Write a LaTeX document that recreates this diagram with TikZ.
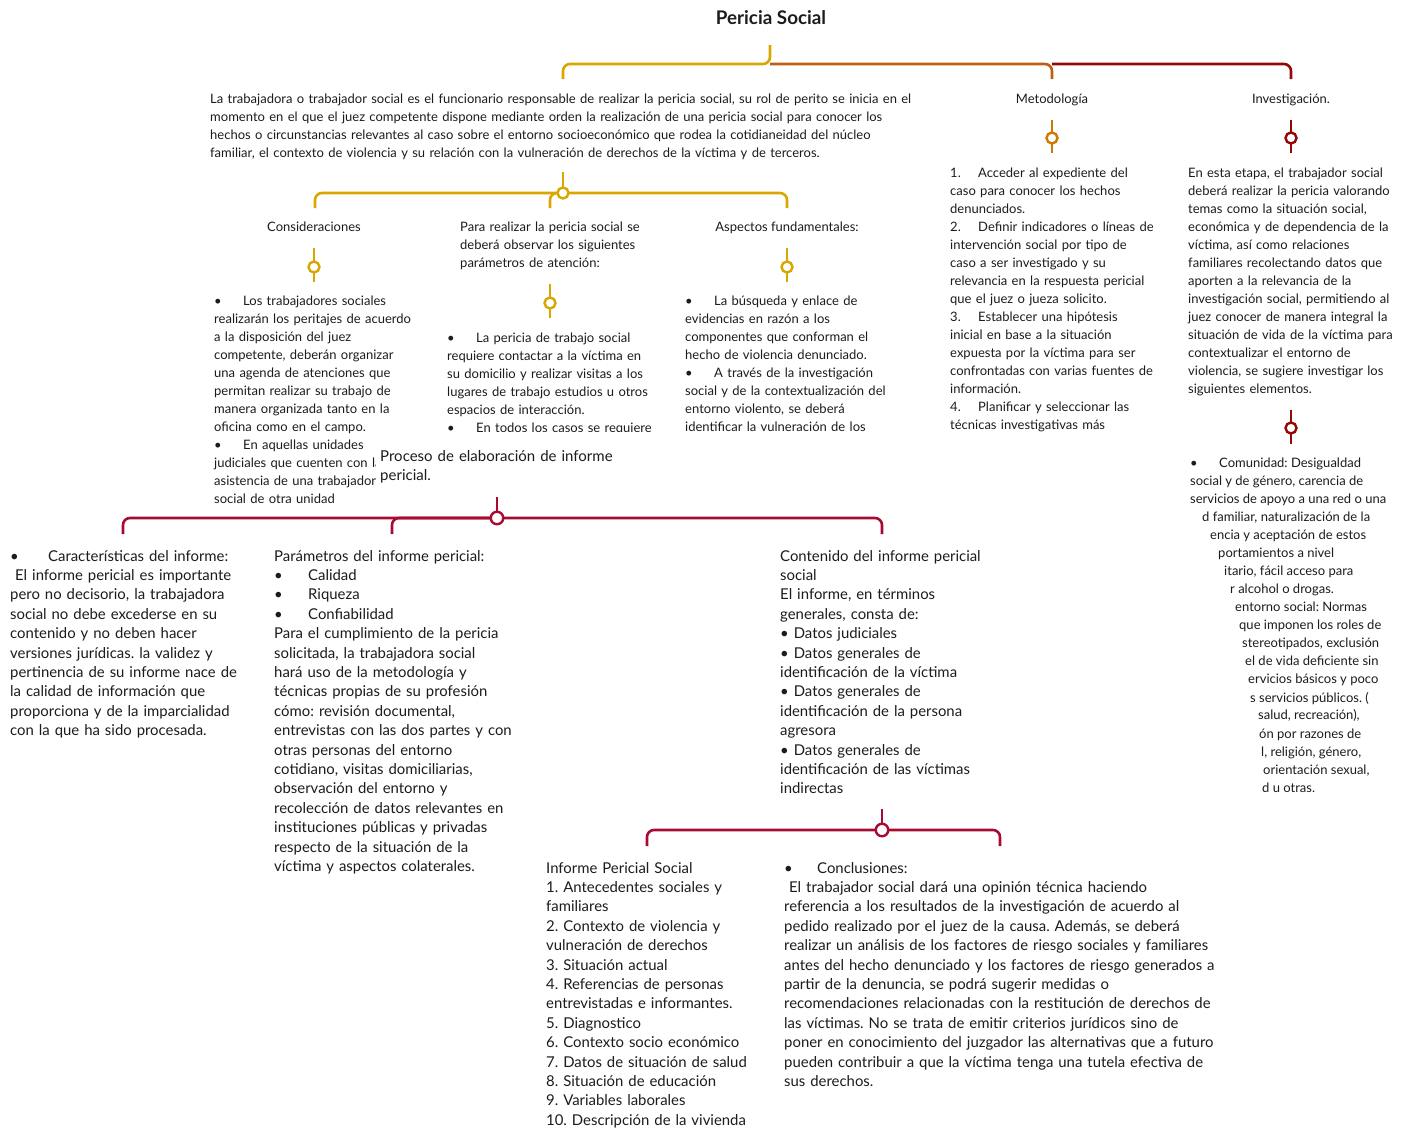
\documentclass[tikz,border=0pt]{standalone}
\usepackage{fontspec}
\setmainfont{Lato}
\frenchspacing
\definecolor{ink}{RGB}{28,28,28}
\definecolor{gold}{RGB}{218,166,0}
\definecolor{amber}{RGB}{206,122,0}
\definecolor{rust}{RGB}{194,92,18}
\definecolor{maroon}{RGB}{150,8,8}
\definecolor{crimson}{RGB}{168,10,50}
\newcommand{\bul}[1][29]{\makebox[#1pt][l]{•}}
\newcommand{\num}[1]{\makebox[28pt][l]{#1}}
\begin{document}
\begin{tikzpicture}[x=1pt,y=-1pt,
  txt/.style={anchor=base west, inner sep=0pt, text width=#1pt, align=left, text=ink},
  lbl/.style={anchor=base, inner sep=0pt, text=ink},
  small/.style={font=\fontsize{13}{18}\selectfont\frenchspacing},
  big/.style={font=\fontsize{14.9}{19.4}\selectfont\frenchspacing},
  wire/.style={line width=2.6pt, rounded corners=7pt},
  stem/.style={line width=2.6pt},
  knot/.style={circle, draw, fill=white, line width=2.4pt, minimum size=11pt, inner sep=0pt},
  bigknot/.style={knot, minimum size=12.5pt},
]
\path[use as bounding box, fill=white] (0,0) rectangle (1412,1130);

% ---------- title and first level ----------
\node[lbl, font=\fontsize{18.8}{22}\selectfont\bfseries] (title) at (771,24) {Pericia Social};
\coordinate (hub) at (770,64);
\coordinate (tstem) at (770,45);
\coordinate (dropA) at (563,79);
\coordinate (dropM) at (1052,79);
\coordinate (forkM) at (1052,64);
\coordinate (dropI) at (1291,79);
\draw[gold,wire] (tstem) -- (hub) -| (dropA);
\draw[rust,wire] (hub) -| (dropM);
\draw[maroon,wire] (forkM) -| (dropI);

\node[txt=760, small] (intro) at (210,103) {La trabajadora o trabajador social es el funcionario responsable de realizar la pericia social, su rol de perito se inicia en el\\
momento en el que el juez competente dispone mediante orden la realización de una pericia social para conocer los\\
hechos o circunstancias relevantes al caso sobre el entorno socioeconómico que rodea la cotidianeidad del núcleo\\
familiar, el contexto de violencia y su relación con la vulneración de derechos de la víctima y de terceros.};

\node[lbl, small] (metod) at (1052,103) {Metodología};
\node[lbl, small] (invest) at (1291,103) {Investigación.};

% ---------- pins under Metodología and Investigación ----------
\coordinate (m1) at (1052,120); \coordinate (m2) at (1052,153);
\draw[amber,stem] (m1) -- (m2);
\node[knot, draw=amber] (km) at (1052,138) {};
\coordinate (i1) at (1291,120); \coordinate (i2) at (1291,153);
\draw[maroon,stem] (i1) -- (i2);
\node[knot, draw=maroon] (ki) at (1291,138) {};

% ---------- Metodología list ----------
\begin{scope}
\clip (940,160) rectangle (1172,431);
\node[txt=225, small] (metlist) at (950,177) {\num{1.}Acceder al expediente del\\
caso para conocer los hechos\\
denunciados.\\
\num{2.}Definir indicadores o líneas de\\
intervención social por tipo de\\
caso a ser investigado y su\\
relevancia en la respuesta pericial\\
que el juez o jueza solicito.\\
\num{3.}Establecer una hipótesis\\
inicial en base a la situación\\
expuesta por la víctima para ser\\
confrontadas con varias fuentes de\\
información.\\
\num{4.}Planificar y seleccionar las\\
técnicas investigativas más};
\end{scope}

% ---------- Investigación text ----------
\node[txt=225, small] (invtext) at (1188,177) {En esta etapa, el trabajador social\\
deberá realizar la pericia valorando\\
temas como la situación social,\\
económica y de dependencia de la\\
víctima, así como relaciones\\
familiares recolectando datos que\\
aporten a la relevancia de la\\
investigación social, permitiendo al\\
juez conocer de manera integral la\\
situación de vida de la víctima para\\
contextualizar el entorno de\\
violencia, se sugiere investigar los\\
siguientes elementos.};

\coordinate (i3) at (1291,410); \coordinate (i4) at (1291,444);
\draw[maroon,stem] (i3) -- (i4);
\node[knot, draw=maroon] (ki2) at (1291,428) {};

% fragments of the community list, cut along a slanted edge
\begin{scope}[every node/.style={anchor=base west, inner sep=0pt, text=ink, font=\fontsize{13}{18}\selectfont}]
\node (c01) at (1190,467) {\bul Comunidad: Desigualdad};
\node (c02) at (1190,485) {social y de género, carencia de};
\node (c03) at (1190,503) {servicios de apoyo a una red o una};
\node (c04) at (1202,521) {d familiar, naturalización de la};
\node (c05) at (1210,539) {encia y aceptación de estos};
\node (c06) at (1218,557) {portamientos a nivel};
\node (c07) at (1224,575) {itario, fácil acceso para};
\node (c08) at (1230,593) {r alcohol o drogas.};
\node (c09) at (1235,611) {entorno social: Normas};
\node (c10) at (1239,629) {que imponen los roles de};
\node (c11) at (1242,647) {stereotipados, exclusión};
\node (c12) at (1245,665) {el de vida deficiente sin};
\node (c13) at (1248,683) {ervicios básicos y poco};
\node (c14) at (1250,702) {s servicios públicos. (};
\node (c15) at (1258,719) {salud, recreación),};
\node (c16) at (1259,738) {ón por razones de};
\node (c17) at (1261,756) {l, religión, género,};
\node (c18) at (1263,774) {orientación sexual,};
\node (c19) at (1262,792) {d u otras.};
\end{scope}

% ---------- gold sub-branch ----------
\coordinate (g0) at (563,172);
\draw[gold,stem] (g0) -- (563,188);
\coordinate (gL) at (315,208);
\coordinate (gR) at (787,208);
\coordinate (gM) at (550,208);
\coordinate (gT) at (563,193);
\draw[gold,wire] (gL) -- (315,193) -- (787,193) -- (gR);
\draw[gold,wire] (gT) -| (gM);
\node[knot, draw=gold] (kg) at (gT) {};

\node[lbl, small] (consid) at (314,231) {Consideraciones};
\node[txt=200, small] (param) at (460,231) {Para realizar la pericia social se\\
deberá observar los siguientes\\
parámetros de atención:};
\node[lbl, small] (aspect) at (787,231) {Aspectos fundamentales:};

\draw[gold,stem] (314,248) -- (314,282);
\node[knot, draw=gold] (kc) at (314,267) {};
\draw[gold,stem] (550,284) -- (550,318);
\node[knot, draw=gold] (kp) at (550,303) {};
\draw[gold,stem] (787,248) -- (787,282);
\node[knot, draw=gold] (ka) at (787,267) {};

\begin{scope}
\clip (205,285) rectangle (440,503);
\node[txt=225, small] (considlist) at (214,305) {\bul Los trabajadores sociales\\
realizarán los peritajes de acuerdo\\
a la disposición del juez\\
competente, deberán organizar\\
una agenda de atenciones que\\
permitan realizar su trabajo de\\
manera organizada tanto en la\\
oficina como en el campo.\\
\bul En aquellas unidades\\
judiciales que cuenten con la\\
asistencia de una trabajadora\\
social de otra unidad};
\end{scope}

\begin{scope}
\clip (440,320) rectangle (672,431);
\node[txt=225, small] (paramlist) at (447,342) {\bul La pericia de trabajo social\\
requiere contactar a la víctima en\\
su domicilio y realizar visitas a los\\
lugares de trabajo estudios u otros\\
espacios de interacción.\\
\bul En todos los casos se requiere};
\end{scope}

\begin{scope}
\clip (678,285) rectangle (915,431);
\node[txt=225, small] (aspectlist) at (685,305) {\bul La búsqueda y enlace de\\
evidencias en razón a los\\
componentes que conforman el\\
hecho de violencia denunciado.\\
\bul A través de la investigación\\
social y de la contextualización del\\
entorno violento, se deberá\\
identificar la vulneración de los};
\end{scope}

% ---------- report section ----------
\path[fill=white] (376,446) rectangle (640,492);
\node[txt=250, font=\fontsize{15}{19}\selectfont] (proceso) at (380,461) {Proceso de elaboración de informe\\
pericial.};

\coordinate (p0) at (497,497);
\draw[crimson,stem] (p0) -- (497,512);
\coordinate (pT) at (497,518);
\coordinate (pL) at (123,534);
\coordinate (pR) at (882,534);
\coordinate (pM) at (392,534);
\draw[crimson,wire] (pL) -- (123,518) -- (882,518) -- (pR);
\draw[crimson,wire] (pT) -| (pM);
\node[bigknot, draw=crimson] (kpr) at (pT) {};

\node[txt=250, big] (caract) at (10,561) {\bul[33] Características del informe:\\
\ El informe pericial es importante\\
pero no decisorio, la trabajadora\\
social no debe excederse en su\\
contenido y no deben hacer\\
versiones jurídicas. la validez y\\
pertinencia de su informe nace de\\
la calidad de información que\\
proporciona y de la imparcialidad\\
con la que ha sido procesada.};

\node[txt=260, big] (paramet) at (274,561) {Parámetros del informe pericial:\\
\bul[34]Calidad\\
\bul[34]Riqueza\\
\bul[34]Confiabilidad\\
Para el cumplimiento de la pericia\\
solicitada, la trabajadora social\\
hará uso de la metodología y\\
técnicas propias de su profesión\\
cómo: revisión documental,\\
entrevistas con las dos partes y con\\
otras personas del entorno\\
cotidiano, visitas domiciliarias,\\
observación del entorno y\\
recolección de datos relevantes en\\
instituciones públicas y privadas\\
respecto de la situación de la\\
víctima y aspectos colaterales.};

\node[txt=240, big] (content) at (780,561) {Contenido del informe pericial\\
social\\
El informe, en términos\\
generales, consta de:\\
• Datos judiciales\\
• Datos generales de\\
identificación de la víctima\\
• Datos generales de\\
identificación de la persona\\
agresora\\
• Datos generales de\\
identificación de las víctimas\\
indirectas};

\coordinate (b0) at (882,809);
\draw[crimson,stem] (b0) -- (882,824);
\coordinate (bT) at (882,830);
\coordinate (bL) at (647,846);
\coordinate (bR) at (1000,846);
\draw[crimson,wire] (bL) -- (647,830) -- (1000,830) -- (bR);
\node[bigknot, draw=crimson] (kb) at (bT) {};

\node[txt=230, big] (informe) at (546,873) {Informe Pericial Social\\
1. Antecedentes sociales y\\
familiares\\
2. Contexto de violencia y\\
vulneración de derechos\\
3. Situación actual\\
4. Referencias de personas\\
entrevistadas e informantes.\\
5. Diagnostico\\
6. Contexto socio económico\\
7. Datos de situación de salud\\
8. Situación de educación\\
9. Variables laborales\\
10. Descripción de la vivienda};

\node[txt=450, big] (concl) at (784,873) {\bul[33]Conclusiones:\\
\ El trabajador social dará una opinión técnica haciendo\\
referencia a los resultados de la investigación de acuerdo al\\
pedido realizado por el juez de la causa. Además, se deberá\\
realizar un análisis de los factores de riesgo sociales y familiares\\
antes del hecho denunciado y los factores de riesgo generados a\\
partir de la denuncia, se podrá sugerir medidas o\\
recomendaciones relacionadas con la restitución de derechos de\\
las víctimas. No se trata de emitir criterios jurídicos sino de\\
poner en conocimiento del juzgador las alternativas que a futuro\\
pueden contribuir a que la víctima tenga una tutela efectiva de\\
sus derechos.};
\end{tikzpicture}
\end{document}
